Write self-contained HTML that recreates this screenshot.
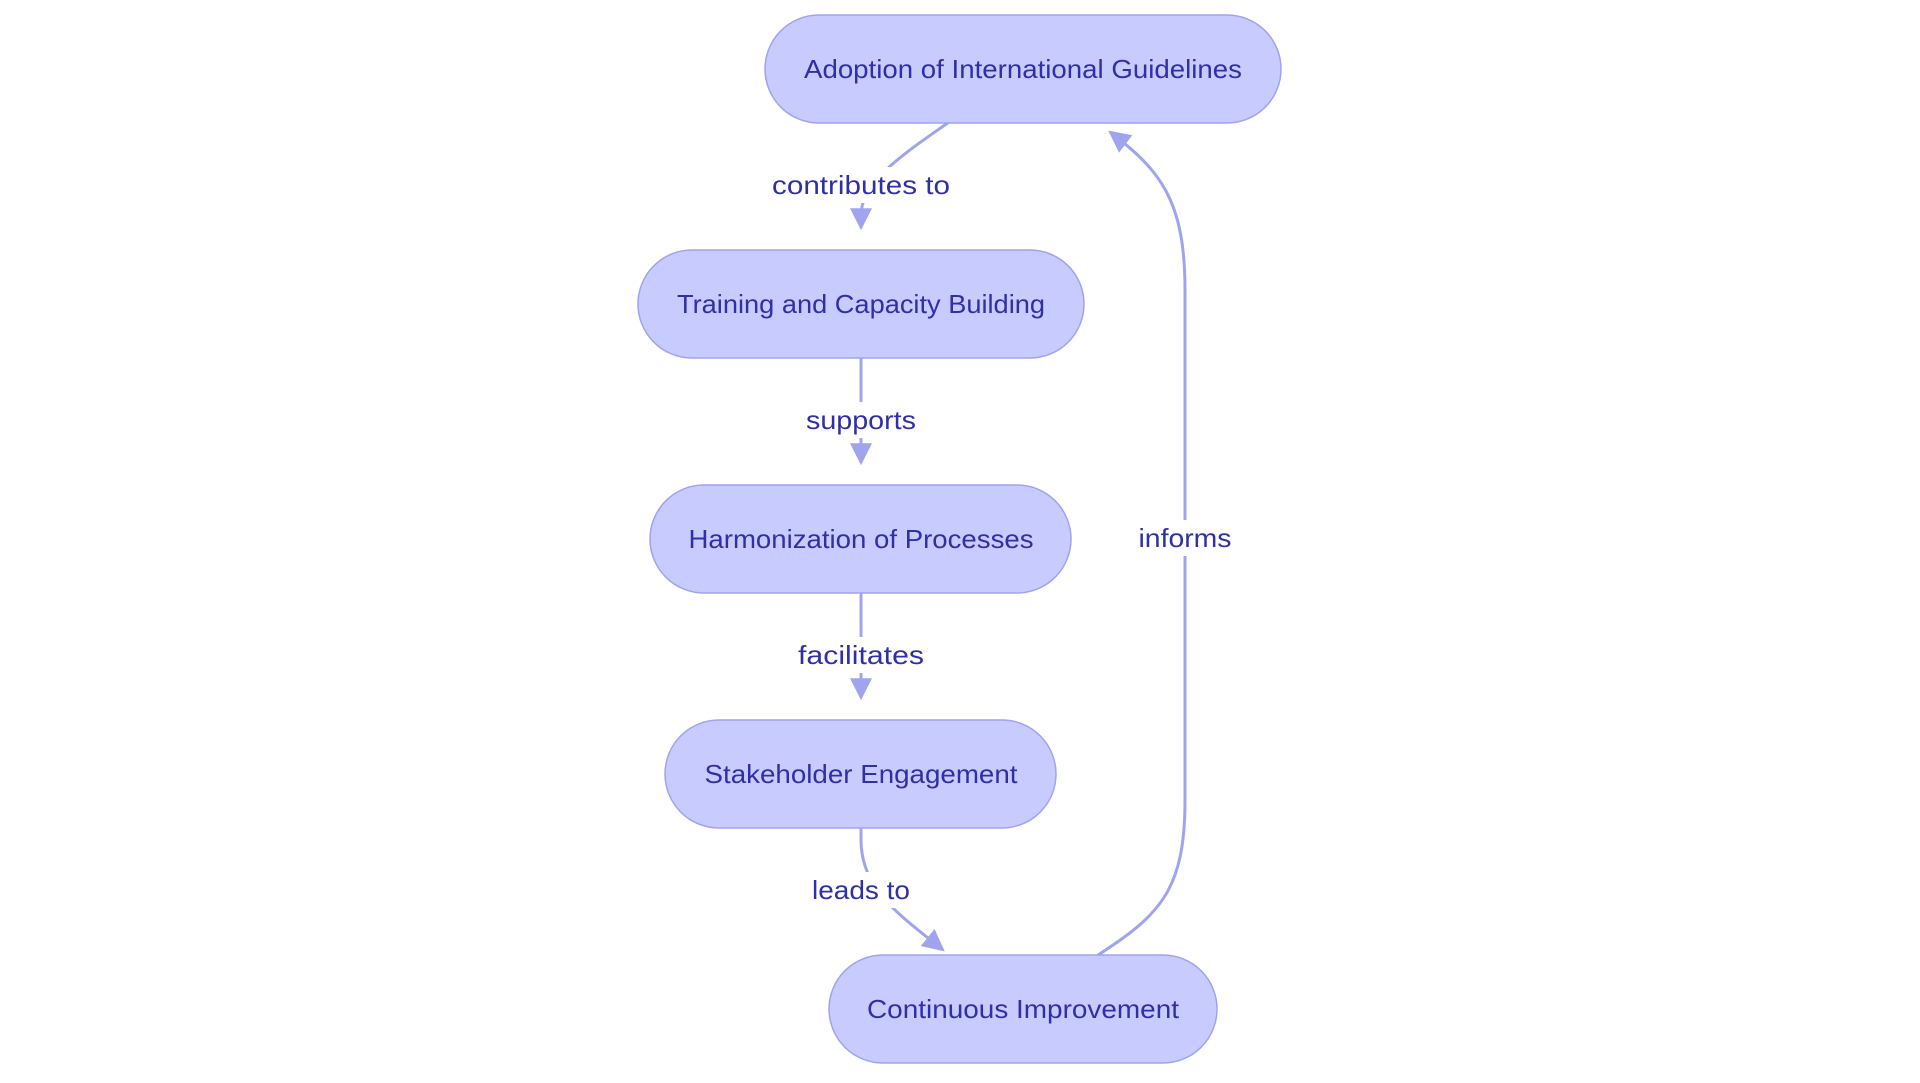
<!DOCTYPE html>
<html><head><meta charset="utf-8"><style>
html,body{margin:0;padding:0;background:#fff;}
svg{display:block}
text{font-family:"Liberation Sans",sans-serif;fill:#2f2fa8;font-size:26px;}
</style></head><body>
<svg width="1920" height="1083" viewBox="0 0 1920 1083" xmlns="http://www.w3.org/2000/svg">
<defs>
<marker id="a" viewBox="0 0 10 10" refX="9" refY="5" markerWidth="9" markerHeight="9" markerUnits="userSpaceOnUse" orient="auto">
<path d="M0,0 L10,5 L0,10 z" fill="#a0a4ef"/>
</marker>
<marker id="b" viewBox="0 0 10 10" refX="9" refY="5" markerWidth="22" markerHeight="22" markerUnits="userSpaceOnUse" orient="auto">
<path d="M0,0 L10,5 L0,10 z" fill="#a0a4ef"/>
</marker>
</defs>
<g fill="none" stroke="#a0a4ef" stroke-width="3">
<path d="M949,122 C910,150 861,180 861,215 L861,228" marker-end="url(#b)"/>
<path d="M861,358 L861,463" marker-end="url(#b)"/>
<path d="M861,593 L861,698" marker-end="url(#b)"/>
<path d="M861,828 L861,840 C861,890 900,915 943,950" marker-end="url(#b)"/>
<path d="M1098,955 C1160,915 1185,890 1185,800 L1185,290 C1185,200 1160,170 1110,132" marker-end="url(#b)"/>
</g>
<g fill="#c8cbfe" stroke="#9fa3f0" stroke-width="1.5">
<rect x="765" y="15" width="516" height="108" rx="54"/>
<rect x="638" y="250" width="446" height="108" rx="54"/>
<rect x="650" y="485" width="421" height="108" rx="54"/>
<rect x="665" y="720" width="391" height="108" rx="54"/>
<rect x="829" y="955" width="388" height="108" rx="54"/>
</g>
<g text-anchor="middle">
<text x="1023" y="78" textLength="438" lengthAdjust="spacingAndGlyphs">Adoption of International Guidelines</text>
<text x="861" y="313" textLength="368" lengthAdjust="spacingAndGlyphs">Training and Capacity Building</text>
<text x="861" y="548" textLength="345" lengthAdjust="spacingAndGlyphs">Harmonization of Processes</text>
<text x="861" y="783" textLength="313" lengthAdjust="spacingAndGlyphs">Stakeholder Engagement</text>
<text x="1023" y="1018" textLength="312" lengthAdjust="spacingAndGlyphs">Continuous Improvement</text>
</g>
<g text-anchor="middle">
<rect x="770" y="167" width="182" height="36" fill="#fff"/>
<text x="861" y="194" textLength="178" lengthAdjust="spacingAndGlyphs">contributes to</text>
<rect x="803" y="402" width="116" height="36" fill="#fff"/>
<text x="861" y="429" textLength="110" lengthAdjust="spacingAndGlyphs">supports</text>
<rect x="797" y="637" width="128" height="36" fill="#fff"/>
<text x="861" y="664" textLength="126" lengthAdjust="spacingAndGlyphs">facilitates</text>
<rect x="811" y="872" width="100" height="36" fill="#fff"/>
<text x="861" y="899" textLength="98" lengthAdjust="spacingAndGlyphs">leads to</text>
<rect x="1137" y="520" width="96" height="36" fill="#fff"/>
<text x="1185" y="547" textLength="93" lengthAdjust="spacingAndGlyphs">informs</text>
</g>
</svg>
</body></html>
